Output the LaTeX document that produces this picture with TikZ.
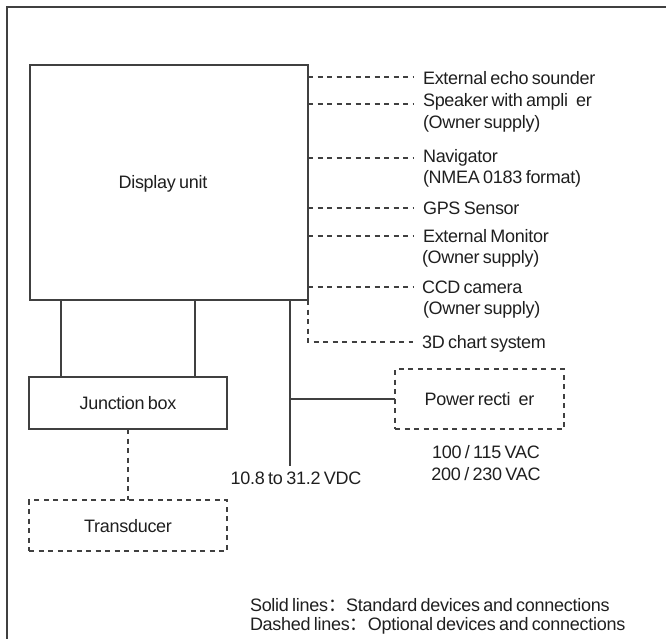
\documentclass[tikz,border=0pt]{standalone}
\usepackage{fontspec}
\setmainfont{Liberation Sans}[LetterSpace=-1.5, WordSpace=0.7]
\newfontfamily\cjk{Noto Sans CJK SC}
\usetikzlibrary{calc}
\begin{document}
\begin{tikzpicture}[x=1pt,y=-1pt,
  ln/.style={line width=1.2pt, draw=black!75},
  dsh/.style={ln, dash pattern=on 5pt off 4.5pt},
  txt/.style={inner sep=0pt, outer sep=0pt, text height=13pt, text depth=0pt,
    font=\fontsize{18}{21}\selectfont, text=black!88},
  lbl/.style={txt, anchor=west},
  box/.style={txt, ln, rectangle},
  dbox/.style={box, dsh}]
\useasboundingbox (0,0) rectangle (666,638);
% frame
\coordinate (fbl) at (7,640);
\coordinate (ftl) at (7,7);
\coordinate (ftr) at (668,7);
\draw[ln] (fbl) -- (ftl) -- (ftr);
% boxes
\node[box, minimum width=278pt, minimum height=235pt] (du) at (169,182.5) {};
\node[txt] (dulbl) at (163,182) {Display unit};
\node[box, minimum width=198pt, minimum height=52pt] (jb) at (128,403) {Junction box};
\node[dbox, minimum width=198pt, minimum height=51pt] (tr) at (128,525.5) {Transducer};
\node[dbox, minimum width=169pt, minimum height=60pt] (pr) at (479.5,399) {Power recti\hspace{8pt}er};
% solid connectors
\coordinate (c1) at (61,0);
\coordinate (c2) at (195,0);
\coordinate (vdcend) at (290,466);
\draw[ln] (du.south -| c1) -- (jb.north -| c1);
\draw[ln] (du.south -| c2) -- (jb.north -| c2);
\draw[ln] (du.south -| vdcend) -- (vdcend);
\draw[ln] (pr.west) -- (pr.west -| vdcend);
\draw[dsh] (jb.south) -- (tr.north);
\node[txt] (vdc) at (296,478) {10.8 to 31.2 VDC};
% dashed option lines
\coordinate (d1) at (413,77);
\coordinate (d2) at (413,104);
\coordinate (d3) at (413,158);
\coordinate (d4) at (413,208);
\coordinate (d5) at (413,236);
\coordinate (d6) at (413,287);
\coordinate (d7) at (413,342);
\foreach \d in {d1,d2,d3,d4,d5,d6}{\draw[dsh] (du.east |- \d) -- (\d);}
\draw[dsh] (du.south east) -- (du.south east |- d7) -- (d7);
% labels
\node[lbl] (l1) at (423,78) {External echo sounder};
\node[lbl] (l2) at (423,100) {Speaker with ampli\hspace{8pt}er};
\node[lbl] (l2b) at (423,122) {(Owner supply)};
\node[lbl] (l3) at (423,156) {Navigator};
\node[lbl] (l3b) at (423,177) {(NMEA 0183 format)};
\node[lbl] (l4) at (423,208) {GPS Sensor};
\node[lbl] (l5) at (423,236) {External Monitor};
\node[lbl] (l5b) at (422,257) {(Owner supply)};
\node[lbl] (l6) at (422,287) {CCD camera};
\node[lbl] (l6b) at (423,308) {(Owner supply)};
\node[lbl] (l7) at (422,342) {3D chart system};
\node[txt] (ac1) at (486,452) {100 / 115 VAC};
\node[txt] (ac2) at (486,474) {200 / 230 VAC};
\node[lbl] (lg1) at (250,605) {Solid lines{\cjk ：}Standard devices and connections};
\node[lbl] (lg2) at (250,624) {Dashed lines{\cjk ：}Optional devices and connections};
\end{tikzpicture}
\end{document}
